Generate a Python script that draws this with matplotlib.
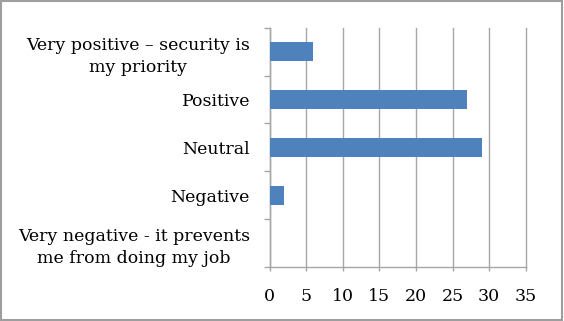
import matplotlib
matplotlib.use("Agg")
from matplotlib import pyplot as plt
from matplotlib.patches import Rectangle

categories = [
  "Very positive \u2013 security is\nmy priority",
  "Positive",
  "Neutral",
  "Negative",
  "Very negative - it prevents\nme from doing my job",
]
values = [6, 27, 29, 2, 0]
x_ticks = [0, 5, 10, 15, 20, 25, 30, 35]

BAR_COLOR = "#4F81BD"
GRID_COLOR = "#A6A6A6"

def main():
  plt.rcParams["font.family"] = ["DejaVu Serif"]

  fig = plt.figure(figsize=(5.64, 3.21), dpi=100)
  ax = fig.add_axes([269.5 / 564, 1 - 266.7 / 321, (525.7 - 269.5) / 564, (266.7 - 28) / 321])

  y_pos = list(range(len(categories)))
  ax.barh(y_pos, values, height=0.4, color=BAR_COLOR, zorder=3)
  ax.set_ylim(len(categories) - 0.5, -0.5)
  ax.set_xlim(0, 35)

  ax.set_xticks(x_ticks)
  ax.set_xticklabels([str(t) for t in x_ticks], fontsize=12.5)
  ax.set_yticks(y_pos)
  ax.set_yticklabels(categories, fontsize=12.5, multialignment="center", linespacing=1.4)
  ax.set_yticks([i - 0.5 for i in range(len(categories) + 1)], minor=True)

  ax.tick_params(axis="y", which="major", length=0, pad=14)
  ax.tick_params(axis="y", which="minor", length=4.5, color=GRID_COLOR, width=1)
  ax.tick_params(axis="x", which="major", length=3, color=GRID_COLOR, width=1, pad=12)

  ax.grid(axis="x", color=GRID_COLOR, linewidth=1, zorder=0)
  for line in ax.get_xgridlines():
    line.set_clip_on(False)
  for side in ["top", "right"]:
    ax.spines[side].set_visible(False)
  for side in ["left", "bottom"]:
    ax.spines[side].set_color(GRID_COLOR)
    ax.spines[side].set_linewidth(1)

  fig.patches.append(Rectangle((0.002, 0.003), 0.995, 0.993, transform=fig.transFigure,
                               fill=False, edgecolor="#9E9E9E", linewidth=1.5))

  fig.savefig("out.png", dpi=100)
  plt.close(fig)

if __name__ == "__main__":
  main()
